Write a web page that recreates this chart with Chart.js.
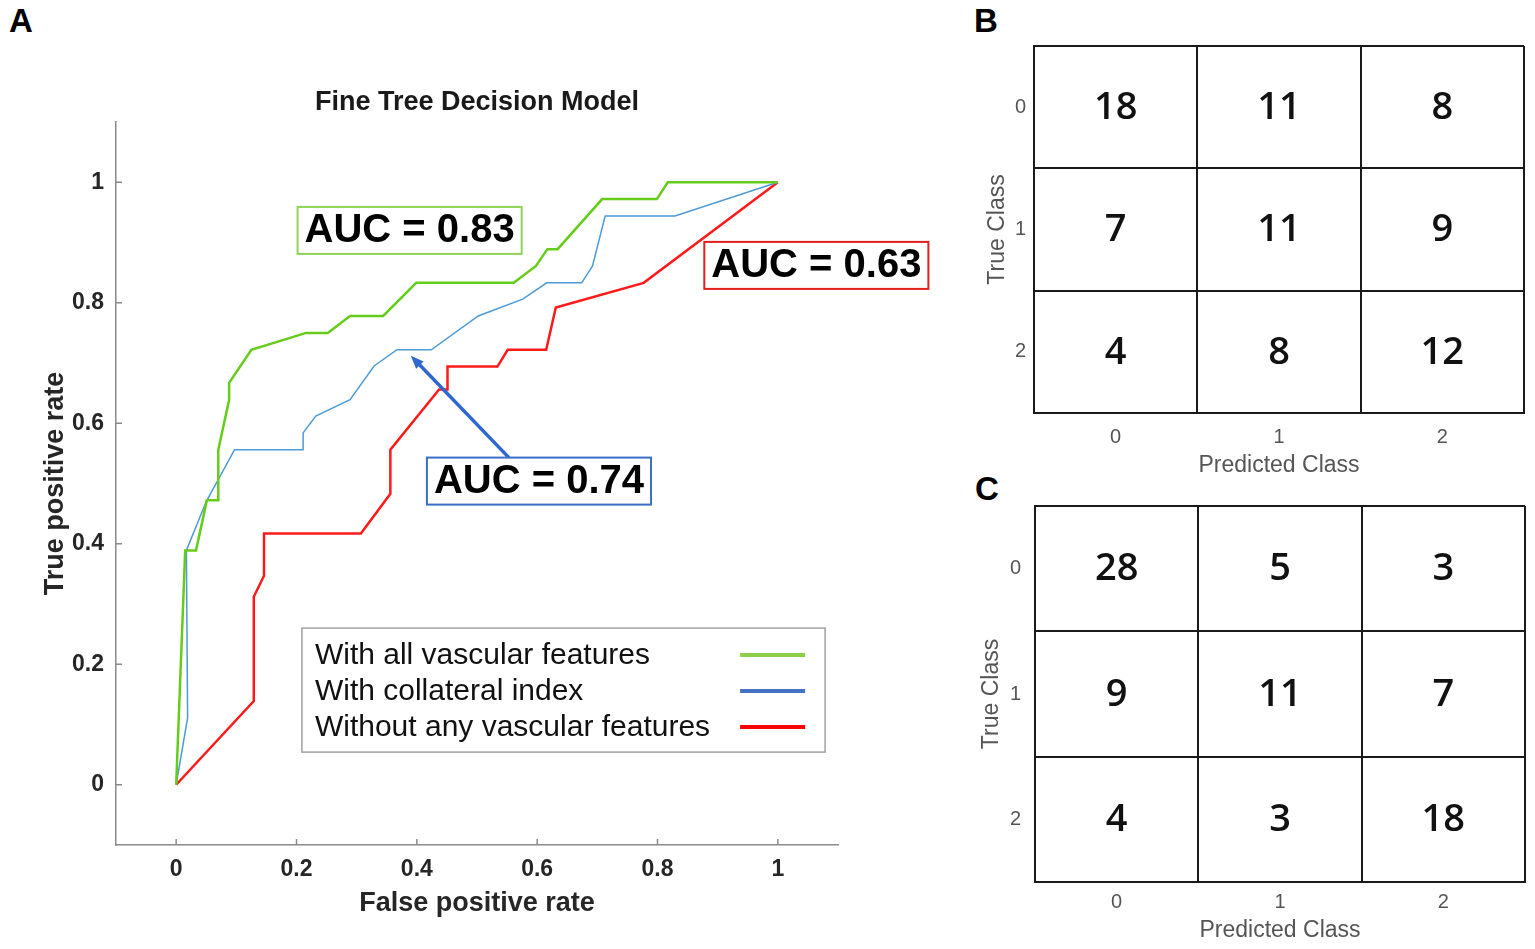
<!DOCTYPE html>
<html><head><meta charset="utf-8">
<script src="https://cdn.jsdelivr.net/npm/chart.js@4.4.0/dist/chart.umd.min.js"></script>
<style>
html,body{margin:0;padding:0;background:#fff;width:1535px;height:949px;overflow:hidden;}
.panel{position:absolute;}
.letter{position:absolute;font:bold 33px "Liberation Sans",Arial,sans-serif;line-height:33px;color:#000;}
</style></head><body>
<div class="letter" style="left:9px;top:4px">A</div>
<div class="letter" style="left:974px;top:4px">B</div>
<div class="letter" style="left:975px;top:472px">C</div>
<div class="panel" style="left:0;top:0;width:960px;height:949px"><canvas id="roc"></canvas></div>
<div class="panel" style="left:960px;top:0;width:575px;height:478px"><canvas id="cmB"></canvas></div>
<div class="panel" style="left:960px;top:478px;width:575px;height:471px"><canvas id="cmC"></canvas></div>
<script>
// ---------- data ----------
const seriesNames = ['With all vascular features', 'With collateral index', 'Without any vascular features'];
const fprAll  = [0, 0.015, 0.033, 0.051, 0.070, 0.070, 0.088, 0.088, 0.125, 0.216, 0.252, 0.289, 0.344, 0.399, 0.561, 0.598, 0.617, 0.634, 0.708, 0.799, 0.817, 1];
const tprAll  = [0, 0.389, 0.389, 0.472, 0.472, 0.556, 0.639, 0.667, 0.722, 0.750, 0.750, 0.778, 0.778, 0.833, 0.833, 0.861, 0.889, 0.889, 0.972, 0.972, 1, 1];
const fprColl = [0, 0.019, 0.017, 0.050, 0.097, 0.211, 0.211, 0.232, 0.289, 0.329, 0.367, 0.424, 0.502, 0.576, 0.616, 0.674, 0.692, 0.713, 0.829, 1];
const tprColl = [0, 0.111, 0.389, 0.470, 0.556, 0.556, 0.584, 0.612, 0.639, 0.695, 0.722, 0.722, 0.778, 0.806, 0.833, 0.833, 0.861, 0.944, 0.944, 1];
const fprNone = [0, 0.129, 0.129, 0.146, 0.146, 0.307, 0.356, 0.356, 0.437, 0.451, 0.451, 0.534, 0.551, 0.615, 0.631, 0.777, 1];
const tprNone = [0, 0.139, 0.312, 0.347, 0.417, 0.417, 0.483, 0.556, 0.656, 0.656, 0.694, 0.694, 0.722, 0.722, 0.792, 0.833, 1];
const rocTicks = [0, 0.2, 0.4, 0.6, 0.8, 1];
const aucLabels = ['AUC = 0.83', 'AUC = 0.74', 'AUC = 0.63'];
const classLabels = ['0', '1', '2'];
const matrixB = [[18, 11, 8], [7, 11, 9], [4, 8, 12]];
const matrixC = [[28, 5, 3], [9, 11, 7], [4, 3, 18]];

const FONT = '"Liberation Sans", Arial, sans-serif';
const pts = (xs, ys) => xs.map((x, i) => ({x: x, y: ys[i]}));

// ---------- plugins ----------
const innerTicks = {
  id: 'innerTicks',
  beforeDatasetsDraw(chart, args, o) {
    const {ctx, scales: {x, y}} = chart;
    ctx.save();
    ctx.strokeStyle = o.color; ctx.lineWidth = 1.5;
    x.ticks.forEach(t => {
      const px = x.getPixelForValue(t.value);
      ctx.beginPath(); ctx.moveTo(px, x.top); ctx.lineTo(px, x.top - o.length); ctx.stroke();
    });
    y.ticks.forEach(t => {
      const py = y.getPixelForValue(t.value);
      ctx.beginPath(); ctx.moveTo(y.right, py); ctx.lineTo(y.right + o.length, py); ctx.stroke();
    });
    ctx.restore();
  }
};

const aucNotes = {
  id: 'aucNotes',
  afterDatasetsDraw(chart, args, o) {
    const {ctx, scales: {x, y}} = chart;
    ctx.save();
    const a = o.arrow;
    const x1 = x.getPixelForValue(a.from[0]), y1 = y.getPixelForValue(a.from[1]);
    const x2 = x.getPixelForValue(a.to[0]), y2 = y.getPixelForValue(a.to[1]);
    const ang = Math.atan2(y2 - y1, x2 - x1);
    ctx.strokeStyle = a.color; ctx.fillStyle = a.color; ctx.lineWidth = a.width;
    ctx.beginPath(); ctx.moveTo(x1, y1);
    ctx.lineTo(x2 - a.head * 0.8 * Math.cos(ang), y2 - a.head * 0.8 * Math.sin(ang)); ctx.stroke();
    ctx.beginPath(); ctx.moveTo(x2, y2);
    ctx.lineTo(x2 - a.head * Math.cos(ang - 0.38), y2 - a.head * Math.sin(ang - 0.38));
    ctx.lineTo(x2 - a.head * Math.cos(ang + 0.38), y2 - a.head * Math.sin(ang + 0.38));
    ctx.closePath(); ctx.fill();
    ctx.font = o.font; ctx.textAlign = 'center'; ctx.textBaseline = 'middle';
    o.items.forEach((it, i) => {
      const txt = aucLabels[i];
      const cx = x.getPixelForValue(it.x), cy = y.getPixelForValue(it.y);
      const w = ctx.measureText(txt).width + 2 * o.padX, h = o.boxHeight;
      ctx.fillStyle = '#fff'; ctx.fillRect(cx - w / 2, cy - h / 2, w, h);
      ctx.strokeStyle = it.color; ctx.lineWidth = 2; ctx.strokeRect(cx - w / 2, cy - h / 2, w, h);
      ctx.fillStyle = '#000'; ctx.fillText(txt, cx, cy + 1);
    });
    ctx.restore();
  }
};

const boxLegend = {
  id: 'boxLegend',
  afterDatasetsDraw(chart, args, o) {
    const {ctx, scales: {x, y}} = chart;
    const ds = chart.data.datasets;
    ctx.save();
    ctx.font = o.font;
    const tw = Math.max(...ds.map(d => ctx.measureText(d.label).width));
    const left = x.getPixelForValue(o.x), top = y.getPixelForValue(o.y);
    const w = o.padLeft + tw + o.gap + o.sample + o.padRight;
    const h = o.padTop + o.rowHeight * ds.length + o.padBottom;
    ctx.fillStyle = '#fff'; ctx.fillRect(left, top, w, h);
    ctx.strokeStyle = o.borderColor; ctx.lineWidth = 1.5; ctx.strokeRect(left, top, w, h);
    ctx.textAlign = 'left'; ctx.textBaseline = 'middle';
    ds.forEach((d, i) => {
      const cy = top + o.padTop + o.rowHeight * (i + 0.5);
      ctx.fillStyle = o.color; ctx.fillText(d.label, left + o.padLeft, cy + 1);
      const sx = left + w - o.padRight - o.sample;
      ctx.strokeStyle = d.legendColor || d.borderColor; ctx.lineWidth = 4;
      ctx.beginPath(); ctx.moveTo(sx, cy); ctx.lineTo(sx + o.sample, cy); ctx.stroke();
    });
    ctx.restore();
  }
};

const cellText = {
  id: 'cellText',
  afterDatasetsDraw(chart, args, o) {
    const {ctx} = chart;
    const meta = chart.getDatasetMeta(0);
    const data = chart.data.datasets[0].data;
    ctx.save();
    ctx.font = o.font; ctx.fillStyle = o.color; ctx.textAlign = 'center'; ctx.textBaseline = 'middle';
    meta.data.forEach((el, i) => ctx.fillText(String(data[i].v), el.x, el.y + 1));
    ctx.restore();
  }
};

// ---------- ROC chart ----------
const lineDs = (label, data, color, legendColor, width) => ({
  label, data, borderColor: color, legendColor, borderWidth: width,
  showLine: true, pointRadius: 0, pointHoverRadius: 0, tension: 0, fill: false
});
const tickFont = {family: FONT, size: 23, weight: 'bold'};
const axisTitleFont = {family: FONT, size: 27, weight: 'bold'};

new Chart(document.getElementById('roc'), {
  type: 'scatter',
  data: {datasets: [
    lineDs(seriesNames[0], pts(fprAll, tprAll), '#66cc1a', '#8cd04a', 2.5),
    lineDs(seriesNames[1], pts(fprColl, tprColl), '#4d9bd6', '#4472c4', 1.5),
    lineDs(seriesNames[2], pts(fprNone, tprNone), '#ff1a1a', '#ff0000', 2.5)
  ]},
  options: {
    responsive: true, maintainAspectRatio: false, animation: false,
    layout: {padding: {left: 0, right: 122, top: 0, bottom: 0}},
    plugins: {
      legend: {display: false}, tooltip: {enabled: false}, title: {display: false},
      innerTicks: {color: '#8a8a8a', length: 6},
      aucNotes: {
        font: 'bold 40px ' + FONT, padX: 7, boxHeight: 47,
        items: [
          {x: 0.388, y: 0.920, color: '#8fd45a'},
          {x: 0.603, y: 0.504, color: '#3a6fc9'},
          {x: 1.064, y: 0.862, color: '#e0201e'}
        ],
        arrow: {from: [0.553, 0.543], to: [0.390, 0.712], color: '#2f66d2', width: 3.5, head: 14}
      },
      boxLegend: {
        x: 0.209, y: 0.26, font: '30px ' + FONT, color: '#111', borderColor: '#a0a0a0',
        padLeft: 13, padRight: 20, padTop: 9, padBottom: 7, rowHeight: 36, gap: 30, sample: 65
      }
    },
    scales: {
      x: {
        type: 'linear', min: -0.1, max: 1.1,
        afterBuildTicks: s => { s.ticks = rocTicks.map(v => ({value: v})); },
        afterFit: s => { s.height = 104; },
        grid: {drawOnChartArea: false, drawTicks: false},
        border: {color: '#8a8a8a', width: 1.5},
        ticks: {font: tickFont, color: '#262626', padding: 11, maxRotation: 0, callback: v => String(v)},
        title: {display: true, text: 'False positive rate', color: '#262626',
          font: axisTitleFont, padding: {top: 0, bottom: 29}}
      },
      top: {
        type: 'linear', position: 'top', min: -0.1, max: 1.1,
        afterFit: s => { s.height = 122; },
        grid: {display: false}, border: {display: false}, ticks: {display: false},
        title: {display: true, text: 'Fine Tree Decision Model', color: '#1a1a1a',
          font: {family: FONT, size: 27, weight: 'bold'}, padding: {top: 86, bottom: 0}}
      },
      y: {
        type: 'linear', min: -0.1, max: 1.1,
        afterBuildTicks: s => { s.ticks = rocTicks.map(v => ({value: v})); },
        afterFit: s => { s.width = 116; },
        grid: {drawOnChartArea: false, drawTicks: false},
        border: {color: '#8a8a8a', width: 1.5},
        ticks: {font: tickFont, color: '#262626', padding: 12, callback: v => String(v)},
        title: {display: true, text: 'True positive rate', color: '#262626',
          font: axisTitleFont, padding: {top: 39, bottom: 0}}
      }
    }
  },
  plugins: [innerTicks, aucNotes, boxLegend]
});

// ---------- confusion matrices ----------
function matrixChart(id, values, cfg) {
  const data = [];
  values.forEach((row, r) => row.forEach((v, c) => data.push({x: classLabels[c], y: classLabels[r], v: v})));
  const gridOpts = {offset: true, color: '#1a1a1a', lineWidth: 2, drawTicks: false};
  new Chart(document.getElementById(id), {
    type: 'scatter',
    data: {datasets: [{data: data, pointRadius: 0, pointHoverRadius: 0}]},
    options: {
      responsive: true, maintainAspectRatio: false, animation: false,
      layout: {padding: {top: cfg.top, right: cfg.right, left: 0, bottom: 0}},
      plugins: {legend: {display: false}, tooltip: {enabled: false},
        cellText: {font: '600 38px "Open Sans"', color: '#111'}},
      scales: {
        x: {
          type: 'category', labels: classLabels, offset: true,
          afterFit: s => { s.height = cfg.xh; },
          grid: gridOpts, border: {color: '#1a1a1a', width: 2},
          ticks: {font: {family: FONT, size: 20}, color: '#555', padding: cfg.xPad},
          title: {display: true, text: 'Predicted Class', color: '#555',
            font: {family: FONT, size: 23}, padding: {top: 0, bottom: cfg.xTitlePad}}
        },
        y: {
          type: 'category', labels: classLabels, offset: true,
          afterFit: s => { s.width = cfg.yw; },
          grid: gridOpts, border: {color: '#1a1a1a', width: 2},
          ticks: {font: {family: FONT, size: 20}, color: '#555', padding: cfg.yPad},
          title: {display: true, text: 'True Class', color: '#555',
            font: {family: FONT, size: 23}, padding: {top: cfg.yTitlePad, bottom: 0}}
        }
      }
    },
    plugins: [cellText]
  });
}

matrixChart('cmB', matrixB, {top: 46, right: 11, xh: 65, xPad: 12, xTitlePad: -1, yw: 74, yPad: 8, yTitlePad: 24});
matrixChart('cmC', matrixC, {top: 28, right: 10, xh: 67, xPad: 8, xTitlePad: 5, yw: 75, yPad: 14, yTitlePad: 18});
</script>
</body></html>
